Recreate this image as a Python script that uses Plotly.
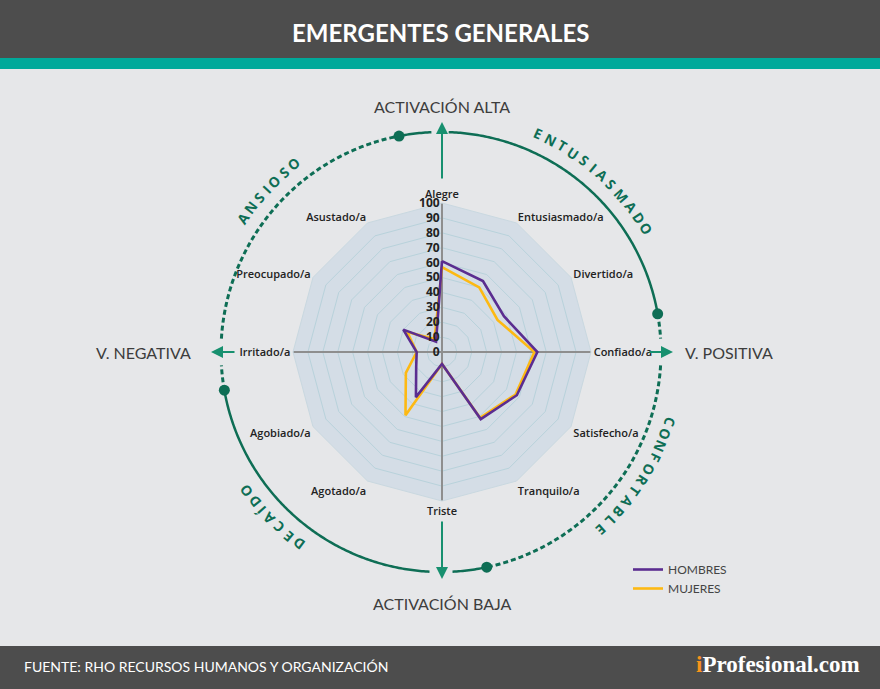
import numpy as np
import plotly.graph_objects as go

# ---------------- data ----------------
categories = ['Alegre', 'Entusiasmado/a', 'Divertido/a', 'Confiado/a', 'Satisfecho/a',
              'Tranquilo/a', 'Triste', 'Agotado/a', 'Agobiado/a', 'Irritado/a',
              'Preocupado/a', 'Asustado/a']
hombres = [61, 55, 48, 64, 58, 52, 8, 35, 20, 17, 30, 8]
mujeres = [57, 50, 43, 62, 57, 51, 8, 49, 28, 17, 27, 10]
radial_ticks = [0, 10, 20, 30, 40, 50, 60, 70, 80, 90, 100]
series_names = ['HOMBRES', 'MUJERES']
quadrant_labels = ['ENTUSIASMADO', 'CONFORTABLE', 'DECAÍDO', 'ANSIOSO']
axis_labels = ['ACTIVACIÓN ALTA', 'V. POSITIVA', 'ACTIVACIÓN BAJA', 'V. NEGATIVA']
title_text = 'EMERGENTES GENERALES'
source_text = 'FUENTE: RHO RECURSOS HUMANOS Y ORGANIZACIÓN'

# ---------------- layout helpers ----------------
W, H = 880, 689
CX, CY = 442, 352      # radar centre (px)
R = 149                # radar radius (px)
CCX, CR = 441, 220     # decorative circle centre x / radius
GREEN = '#0e6e55'
ARROW = '#17906f'


def px(x):
    return x / W


def py(y):
    return 1 - y / H


def circ_pt(theta_deg, r, cx=CCX, cy=CY):
    t = np.radians(theta_deg)
    return cx + r * np.sin(t), cy - r * np.cos(t)


fig = go.Figure()

# cross axes (gray)
fig.add_trace(go.Scatterpolar(
    r=[100, 0, 100], theta=[categories[0], categories[0], categories[6]],
    mode='lines', line=dict(color='#8e8e8e', width=2),
    hoverinfo='skip', showlegend=False))
fig.add_trace(go.Scatterpolar(
    r=[100, 0, 100], theta=[categories[9], categories[9], categories[3]],
    mode='lines', line=dict(color='#8e8e8e', width=2),
    hoverinfo='skip', showlegend=False))

fig.add_trace(go.Scatterpolar(
    r=mujeres + [mujeres[0]], theta=categories + [categories[0]],
    mode='lines', name=series_names[1], line=dict(color='#fdb913', width=2.6),
    legendrank=2))
fig.add_trace(go.Scatterpolar(
    r=hombres + [hombres[0]], theta=categories + [categories[0]],
    mode='lines', name=series_names[0], line=dict(color='#5b2d90', width=2.6),
    legendrank=1))

shapes = []
# header / footer bands
shapes.append(dict(type='rect', xref='paper', yref='paper', x0=0, x1=1, y0=py(58), y1=1,
                   fillcolor='#4d4d4d', line_width=0, layer='below'))
shapes.append(dict(type='rect', xref='paper', yref='paper', x0=0, x1=1, y0=py(69), y1=py(58),
                   fillcolor='#00a99a', line_width=0, layer='below'))
shapes.append(dict(type='rect', xref='paper', yref='paper', x0=0, x1=1, y0=0, y1=py(646),
                   fillcolor='#4d4d4d', line_width=0, layer='below'))


def arc_path(t0, t1):
    ts = np.linspace(t0, t1, max(8, int(abs(t1 - t0) * 2)))
    pts = [circ_pt(t, CR) for t in ts]
    return 'M ' + ' L '.join(f'{px(x):.5f},{py(y):.5f}' for x, y in pts)


solid_arcs = [(-11, -2.5), (2, 80), (168, 177), (183, 260)]
dashed_arcs = [(80, 86.5), (93.5, 168), (260, 266.5), (273.5, 349)]
for a, b in solid_arcs:
    shapes.append(dict(type='path', xref='paper', yref='paper', path=arc_path(a, b),
                       line=dict(color=GREEN, width=2.5)))
for a, b in dashed_arcs:
    shapes.append(dict(type='path', xref='paper', yref='paper', path=arc_path(a, b),
                       line=dict(color=GREEN, width=3, dash='5px,3px')))
for t in [-11, 80, 168, 260]:
    x, y = circ_pt(t, CR)
    shapes.append(dict(type='circle', xref='paper', yref='paper',
                       x0=px(x - 5.5), x1=px(x + 5.5), y0=py(y + 5.5), y1=py(y - 5.5),
                       fillcolor=GREEN, line_width=0))

annotations = []


def note(text, x, y, xa='center', ya='middle', **kw):
    d = dict(text=text, x=px(x), y=py(y), xref='paper', yref='paper',
             xanchor=xa, yanchor=ya, showarrow=False)
    d.update(kw)
    annotations.append(d)


# title & footer
note(f'<b>{title_text}</b>', 440, 33, font=dict(family='Lato', size=24, color='white'))
note(source_text, 22, 666, xa='left', font=dict(family='Lato', size=14, color='white'))
note("<span style='color:#f7941d'>i</span>Profesional.com", 862, 664, xa='right',
     font=dict(family='Liberation Serif', size=23, color='white', weight='bold'))

# axis end labels
label_pos = [(442, 107, 'center'), (683, 352, 'left'), (442, 603, 'center'), (193, 352, 'right')]
for txt, (x, y, anc) in zip(axis_labels, label_pos):
    note(txt, x, y, xa=anc, font=dict(family='Lato', size=16, color='#3d3d3d'))

# green arrows (head, tail)
arrows = [((442, 122), (442, 180)), ((442, 579), (442, 520)),
          ((211, 352), (236, 352)), ((673, 352), (648, 352))]
for (hx, hy), (tx, ty) in arrows:
    annotations.append(dict(text='', x=px(hx), y=py(hy), xref='paper', yref='paper',
                            ax=tx - hx, ay=ty - hy, showarrow=True, arrowhead=2,
                            arrowsize=1.2, arrowwidth=2, arrowcolor=ARROW, standoff=0,
                            startstandoff=0))

# curved quadrant labels
spans = [(24, 59), (107, 138), (216.5, 234.5), (-56, -38)]


def char_w(c):
    if c in 'IÍ':
        return 0.32
    if c == 'M':
        return 0.86
    return 0.64


for txt, (t0, t1) in zip(quadrant_labels, spans):
    w = [char_w(c) for c in txt]
    pos = [0.0]
    for i in range(1, len(txt)):
        pos.append(pos[-1] + (w[i - 1] + w[i]) / 2 + 0.32)
    sc = (t1 - t0) / pos[-1]
    for c, p in zip(txt, pos):
        th = t0 + p * sc
        x, y = circ_pt(th, 239)
        note(f'<b>{c}</b>', x, y, textangle=th,
             font=dict(family='Open Sans', size=14, color=GREEN))

fig.update_layout(
    width=W, height=H,
    margin=dict(l=0, r=0, t=0, b=0),
    paper_bgcolor='#e6e7e9',
    plot_bgcolor='#e6e7e9',
    showlegend=True,
    legend=dict(x=px(628), y=py(555), xanchor='left', yanchor='top',
                bgcolor='rgba(0,0,0,0)', font=dict(family='Lato', size=12, color='#444'),
                tracegroupgap=0, itemwidth=30),
    polar=dict(
        domain=dict(x=[px(CX - R), px(CX + R)], y=[py(CY + R), py(CY - R)]),
        bgcolor='#d4dde6',
        gridshape='linear',
        radialaxis=dict(range=[0, 100], tickvals=radial_ticks, angle=90,
                        side='counterclockwise', showline=False, ticks='',
                        gridcolor='#b8d2db', gridwidth=1, tickangle=90,
                        tickfont=dict(family='Open Sans', size=12, color='#222',
                                      weight='bold')),
        angularaxis=dict(rotation=90, direction='clockwise', showgrid=False,
                         categoryorder='array', categoryarray=categories,
                         showline=True, linecolor='#c9d8e0', ticks='',
                         tickfont=dict(family='Open Sans', size=11, color='#222',
                                       weight=600)),
    ),
    shapes=shapes,
    annotations=annotations,
)

fig.write_html('out.html', config={'displayModeBar': False},
               post_script="document.body.style.margin='0px';")
